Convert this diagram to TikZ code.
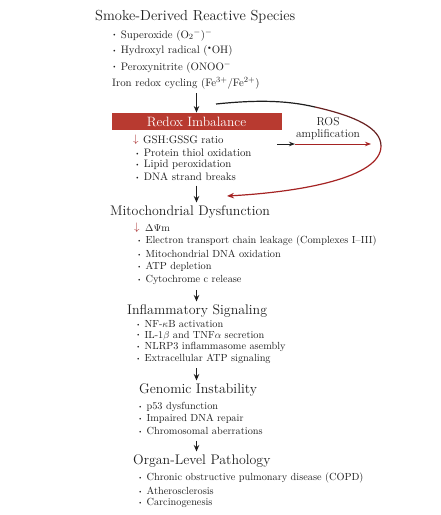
\documentclass[tikz,border=0pt]{standalone}
\usepackage{graphicx}
\usetikzlibrary{arrows.meta,calc}
\definecolor{boxred}{RGB}{184,58,48}
\definecolor{arrred}{RGB}{165,35,35}
\definecolor{ink}{RGB}{30,30,30}
\newcommand\bul{\raisebox{0.25ex}{\scalebox{0.55}{\textbullet}}\hspace{4pt}}
\begin{document}
\begin{tikzpicture}[x=1pt,y=-1pt,
  every node/.style={inner sep=0pt, anchor=west, text=ink},
  title/.style={font=\fontsize{14.5}{16}\selectfont},
  head/.style={font=\fontsize{13.9}{16}\selectfont},
  sub/.style={font=\fontsize{10.8}{12}\selectfont},
  item/.style={font=\fontsize{10.3}{12}\selectfont},
  downmark/.style={text=arrred, font=\fontsize{10.5}{12}\selectfont},
  flow/.style={-{Stealth[length=6.5pt,width=5.5pt]}, line width=1.4pt, draw=ink},
  thin/.style={-{Stealth[length=6pt,width=4.5pt]}, line width=1pt}]
\useasboundingbox[fill=white] (0,0) rectangle (441,515);

% Smoke block
\node[title] (smoke) at (95,17) {Smoke-Derived Reactive Species};
\node[sub] (s1) at (112,35) {\bul Superoxide (O$_2$$^-$)$^-$};
\node[sub] (s2) at (112,51) {\bul Hydroxyl radical ($^{\scriptscriptstyle\bullet}$OH)};
\node[sub] (s3) at (112,67) {\bul Peroxynitrite (ONOO$^-$};
\node[sub] (s4) at (112,83) {Iron redox cycling (Fe$^{3+}$/Fe$^{2+}$)};

% Redox block
\node[fill=boxred, minimum width=170pt, minimum height=17.5pt, anchor=center, text=white,
      font=\fontsize{13.5}{15}\selectfont] (redox) at (196.5,121.5) {Redox Imbalance};
\node[downmark] (r0) at (133,140) {$\downarrow$};
\node[sub] (r1) at (143,140) {GSH:GSSG ratio};
\node[sub] (r2) at (135,152.5) {\bul Protein thiol oxidation};
\node[sub] (r3) at (135,164.5) {\bul Lipid peroxidation};
\node[sub] (r4) at (135,176.5) {\bul DNA strand breaks};

% ROS amplification
\node[anchor=center, align=center, font=\fontsize{11.5}{12}\selectfont] (ros) at (328,129) {ROS\\amplification};
\coordinate (rosA) at (277,144);
\coordinate (rosB) at (295,144);
\coordinate (rosC) at (371,144);
\draw[thin, draw=ink] (rosA) -- (rosB);
\draw[thin, draw=arrred] (rosB) -- (rosC);

% loop
\coordinate (loopS) at (216,104);
\coordinate (loopM) at (381,146);
\coordinate (loopE) at (227,196);
\draw[line width=1.2pt, draw=ink] (loopS) .. controls (255,100) and (285,100) .. (315,107);
\draw[line width=1.2pt, draw=ink!45!arrred] (315,107) .. controls (355,116) and (381,128) .. (loopM);
\draw[line width=1.2pt, draw=arrred, -{Stealth[length=7pt,width=5.5pt]}] (loopM) .. controls (381,178) and (300,192) .. (loopE);

% Mito block
\node[head] (mito) at (110,212) {Mitochondrial Dysfunction};
\node[downmark] (m0a) at (134,228) {$\downarrow$};
\node[item] (m0) at (145,228) {$\Delta\Psi$m};
\node[item] (m1) at (137,241) {\bul Electron transport chain leakage (Complexes I--III)};
\node[item] (m2) at (137,254) {\bul Mitochondrial DNA oxidation};
\node[item] (m3) at (137,267) {\bul ATP depletion};
\node[item] (m4) at (137,280) {\bul Cytochrome c release};

% Inflammatory
\node[head] (infl) at (127,311) {Inflammatory Signaling};
\node[item] (i1) at (136,324) {\bul NF-$\kappa$B activation};
\node[item] (i2) at (136,335.5) {\bul IL-1$\beta$ and TNF$\alpha$ secretion};
\node[item] (i3) at (136,347) {\bul NLRP3 inflammasome asembly};
\node[item] (i4) at (136,358.5) {\bul Extracellular ATP signaling};

% Genomic
\node[head] (geno) at (139,390) {Genomic Instability};
\node[item] (g1) at (138,407) {\bul p53 dysfunction};
\node[item] (g2) at (138,419) {\bul Impaired DNA repair};
\node[item] (g3) at (138,431) {\bul Chromosomal aberrations};

% Organ
\node[head] (organ) at (133,461) {Organ-Level Pathology};
\node[item] (o1) at (138,478) {\bul Chronic obstructive pulmonary disease (COPD)};
\node[item] (o2) at (138,490.5) {\bul Atherosclerosis};
\node[item] (o3) at (138,503) {\bul Carcinogenesis};

% main flow arrows
\draw[flow] ($(s4.south -| redox.center)+(0,4)$) -- (redox.north);
\draw[flow] ($(r4.south -| redox.center)+(0,5)$) -- ($(mito.north -| redox.center)+(0,-3)$);
\draw[flow] ($(m4.south -| redox.center)+(0,5)$) -- ($(infl.north -| redox.center)+(0,-3)$);
\draw[flow] ($(i4.south -| redox.center)+(0,5)$) -- ($(geno.north -| redox.center)+(0,-3)$);
\draw[flow] ($(g3.south -| redox.center)+(0,6)$) -- ($(organ.north -| redox.center)+(0,-3)$);
\end{tikzpicture}
\end{document}
